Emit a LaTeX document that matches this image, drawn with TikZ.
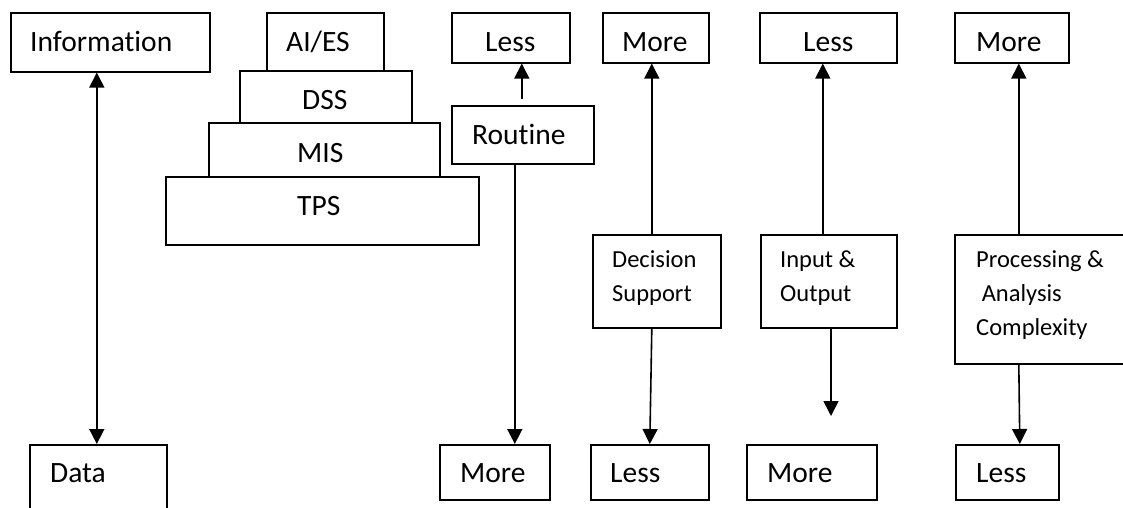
\documentclass[tikz,border=0pt]{standalone}
\usepackage{fontspec}
\setmainfont{Carlito}[Ligatures={NoCommon}]
\usetikzlibrary{arrows.meta}
\newcommand{\bigtxt}{\fontsize{29.5}{35}\selectfont}
\newcommand{\smalltxt}{\fontsize{24.5}{33.5}\selectfont}
\begin{document}
\begin{tikzpicture}[x=1pt,y=-1pt,
  box/.style={draw, line width=1.6pt, inner sep=0pt, anchor=north west},
  lbl/.style={inner sep=0pt, anchor=base west, font=\bigtxt},
  slbl/.style={inner sep=0pt, anchor=base west, font=\smalltxt, align=left},
  link/.style={line width=1.6pt, -{Triangle[length=15pt,width=15pt]}},
  both/.style={line width=1.6pt, {Triangle[length=15pt,width=15pt]}-{Triangle[length=15pt,width=15pt]}}]
\useasboundingbox (0,0) rectangle (1123,508);

% --- information / data ---
\node[box, minimum width=199pt, minimum height=59pt] (info) at (10,12) {};
\node[lbl] (infoT) at (30,52) {Information};
\node[box, minimum width=137pt, minimum height=75pt] (data) at (29,444) {};
\node[lbl] (dataT) at (50,482) {Data};

% --- system pyramid ---
\node[box, minimum width=313pt, minimum height=68pt] (tps) at (165,176) {};
\node[box, minimum width=231pt, minimum height=54pt] (mis) at (208,122) {};
\node[box, minimum width=172pt, minimum height=52pt] (dss) at (239,70) {};
\node[box, minimum width=117pt, minimum height=58pt] (aies) at (266,12) {};
\node[lbl] (aiesT) at (286,52) {AI/ES};
\node[lbl] (dssT) at (302,110) {DSS};
\node[lbl] (misT) at (297,162) {MIS};
\node[lbl] (tpsT) at (297,215) {TPS};

% --- routine ---
\node[box, minimum width=118pt, minimum height=50pt] (less1) at (451,12) {};
\node[lbl] (less1T) at (485,52) {Less};
\node[box, minimum width=142pt, minimum height=58pt] (routine) at (451,105) {};
\node[lbl] (routineT) at (472,144) {Routine};
\node[box, minimum width=110pt, minimum height=55pt] (more1) at (439,444) {};
\node[lbl] (more1T) at (460,482) {More};

% --- decision support (base anchor sits on the last line) ---
\node[box, minimum width=106pt, minimum height=50pt] (more2) at (602,12) {};
\node[lbl] (more2T) at (622,52) {More};
\node[box, minimum width=128pt, minimum height=93pt] (decision) at (592,234) {};
\node[slbl] (decisionT) at (612,301) {Decision\\Support};
\node[box, minimum width=118pt, minimum height=55pt] (less2) at (590,444) {};
\node[lbl] (less2T) at (610,482) {Less};

% --- input & output ---
\node[box, minimum width=137pt, minimum height=50pt] (less3) at (759,12) {};
\node[lbl] (less3T) at (803,52) {Less};
\node[box, minimum width=136pt, minimum height=93pt] (input) at (760,234) {};
\node[slbl] (inputT) at (780,301) {Input \&\\Output};
\node[box, minimum width=130pt, minimum height=55pt] (more3) at (746,444) {};
\node[lbl] (more3T) at (767,482) {More};
\coordinate (ioEnd) at (831,416);

% --- processing & analysis ---
\node[box, minimum width=114pt, minimum height=50pt] (more4) at (954,12) {};
\node[lbl] (more4T) at (976,52) {More};
\node[box, minimum width=180pt, minimum height=129pt] (proc) at (954,234) {};
\node[slbl, font=\fontsize{24.5}{34}\selectfont] (procT) at (976,335) {Processing \&\\\ Analysis\\Complexity};
\node[box, minimum width=103pt, minimum height=55pt] (less4) at (955,444) {};
\node[lbl] (less4T) at (976,482) {Less};

% --- connectors ---
\coordinate (dTop) at ([xshift=-1.5pt]data.north);
\draw[both] (dTop |- info.south) -- (dTop);

\coordinate (rUp) at ([shift={(-1pt,6pt)}]routine.north);
\draw[link] (rUp) -- (rUp |- less1.south);
\coordinate (rDown) at ([xshift=-8pt]routine.south);
\draw[link] (rDown) -- (rDown |- more1.north);

\coordinate (dsUp) at ([xshift=-5pt]decision.north);
\draw[link] (dsUp) -- (dsUp |- more2.south);
\draw[link] ([xshift=-5pt]decision.south) -- (less2.north);

\coordinate (ioUp) at ([xshift=-6pt]input.north);
\draw[link] (ioUp) -- (ioUp |- less3.south);
\draw[link] (ioEnd |- input.south) -- (ioEnd);

\coordinate (paUp) at ([xshift=7pt]more4.south);
\draw[link] (paUp |- proc.north) -- (paUp);
\coordinate (paDown) at ([xshift=12.5pt]less4.north);
\draw[link] (paUp |- proc.south) -- (paDown);
\end{tikzpicture}
\end{document}
